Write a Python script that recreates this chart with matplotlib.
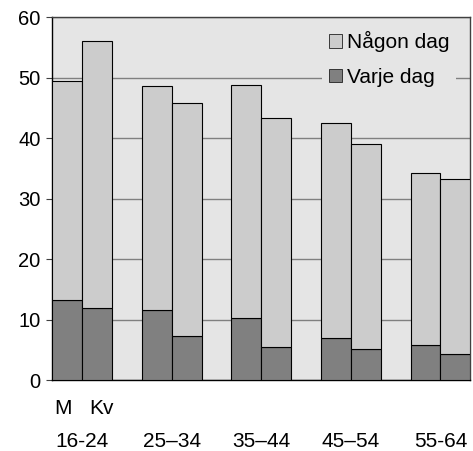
import matplotlib
matplotlib.use("Agg")
import matplotlib.pyplot as plt
import matplotlib.transforms as mtransforms
import numpy as np

plt.rcParams['font.family'] = ['Liberation Sans', 'DejaVu Sans']

# Data
groups = ["16-24", "25–34", "35–44", "45–54", "55-64"]
sex_labels = ["M", "Kv"]
# per bar order: M, Kv for each group
varje_dag = [13.3, 11.9, 11.6, 7.3, 10.2, 5.4, 6.9, 5.1, 5.8, 4.3]
nagon_dag = [36.1, 44.2, 37.1, 38.6, 38.6, 38.0, 35.6, 33.9, 28.4, 29.0]
yticks = [0, 10, 20, 30, 40, 50, 60]

W, H = 473, 451
fig = plt.figure(figsize=(W / 100, H / 100), dpi=100)
ax = fig.add_axes([52.3 / W, 1 - 380 / H, 418 / W, (380 - 17.3) / H])
ax.set_facecolor('#E5E5E5')

pos = []
for g in range(len(groups)):
    pos += [3 * g, 3 * g + 1]
pos = np.array(pos)

lw = 0.8
b1 = ax.bar(pos, varje_dag, width=1.0, color='#808080', edgecolor='black',
            linewidth=lw, zorder=3, label='Varje dag')
b2 = ax.bar(pos, nagon_dag, width=1.0, bottom=varje_dag, color='#CCCCCC',
            edgecolor='black', linewidth=lw, zorder=3, label='Någon dag')

ax.set_xlim(-0.5, 13.5)
ax.set_ylim(0, 60)
ax.set_yticks(yticks)
ax.set_xticks([])
ax.yaxis.grid(True, color='#808080', linewidth=1.0, zorder=1)
ax.set_axisbelow(True)
ax.tick_params(axis='y', length=4.5, width=0.8, color='#404040',
               labelsize=14.5, pad=4)
for s in ['left', 'bottom']:
    ax.spines[s].set_color('black')
    ax.spines[s].set_linewidth(1.0)
for s in ['top', 'right']:
    ax.spines[s].set_color('#404040')
    ax.spines[s].set_linewidth(1.0)

leg = ax.legend([b2, b1], ['Någon dag', 'Varje dag'], loc='upper right',
                bbox_to_anchor=(456 / W, 1 - 25 / H), bbox_transform=fig.transFigure,
                fontsize=15, frameon=True, facecolor='#E5E5E5', edgecolor='none',
                framealpha=1, handlelength=0.62, handleheight=0.62,
                handletextpad=0.27, labelspacing=0.75, borderpad=0.3,
                borderaxespad=0, fancybox=False)
for h in leg.legend_handles:
    h.set_linewidth(0.6)
    h.set_edgecolor('#202020')
leg.set_zorder(5)

# Sex labels
fig.text(54 / W, 1 - 414 / H, sex_labels[0], fontsize=15, ha='left', va='baseline')
fig.text(89.5 / W, 1 - 414 / H, sex_labels[1], fontsize=15, ha='left', va='baseline')

trans = mtransforms.blended_transform_factory(ax.transData, fig.transFigure)
for g, lab in enumerate(groups):
    ax.text(3 * g + 0.5, 1 - 446.7 / H, lab, transform=trans, fontsize=15,
            ha='center', va='baseline')

fig.savefig('out.png', dpi=100, facecolor='white')
